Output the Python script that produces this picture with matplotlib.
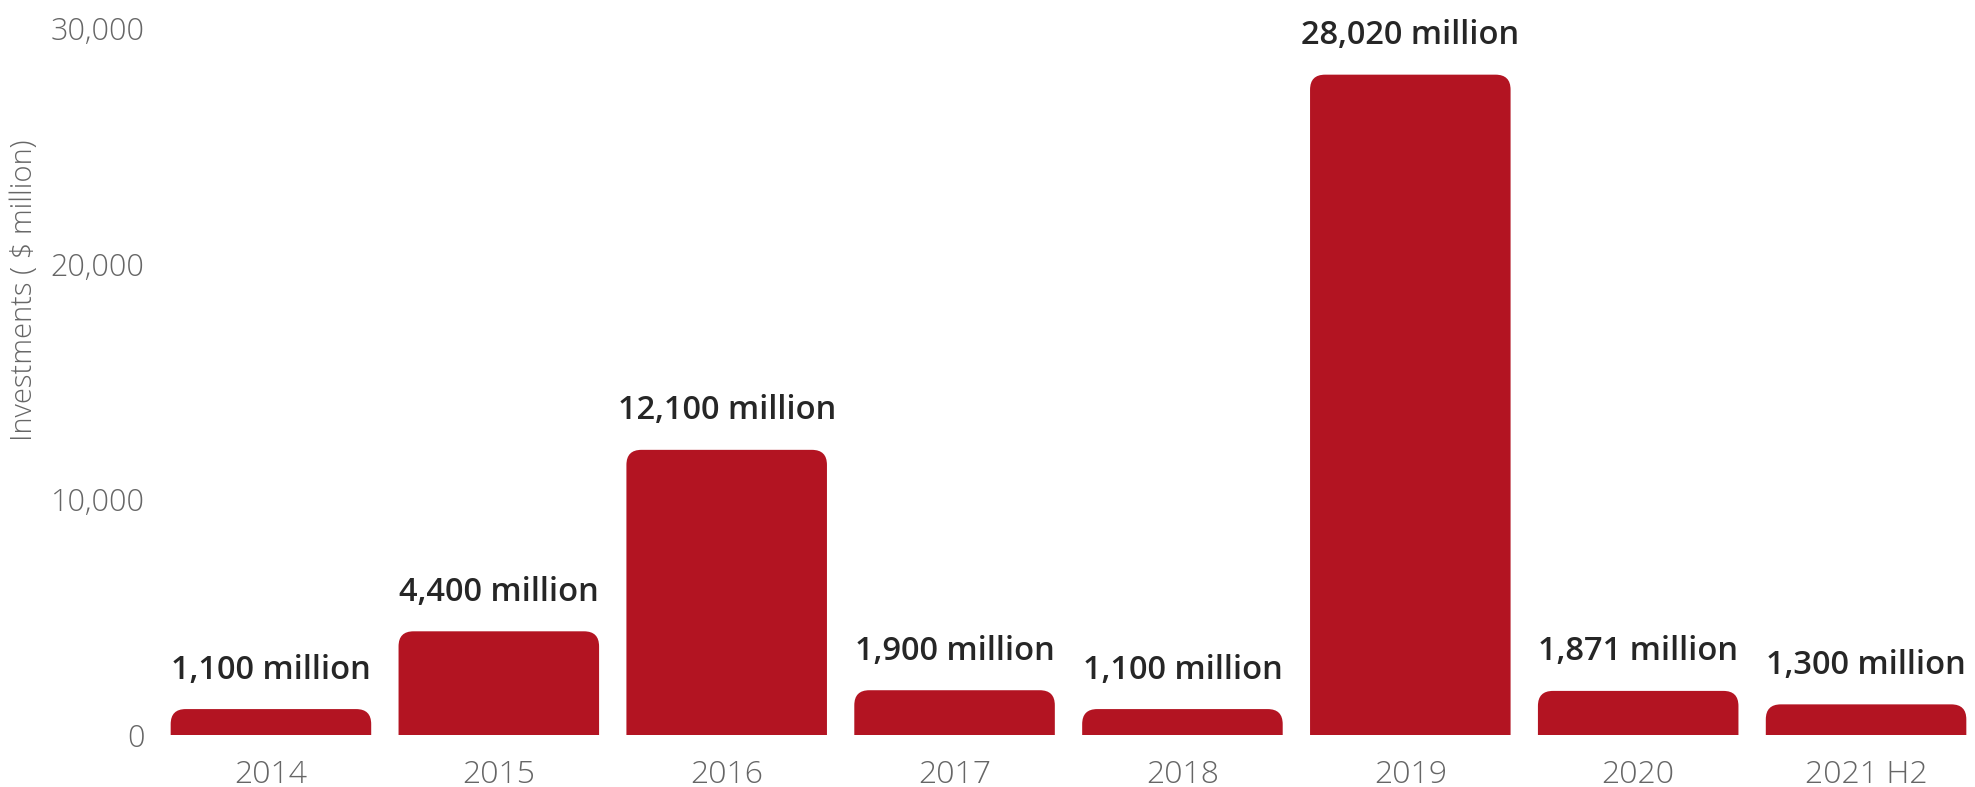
import matplotlib
matplotlib.use("Agg")
import matplotlib.pyplot as plt
from matplotlib.patches import FancyBboxPatch
from matplotlib.ticker import FuncFormatter

years = ["2014", "2015", "2016", "2017", "2018", "2019", "2020", "2021 H2"]
investments = [1100, 4400, 12100, 1900, 1100, 28020, 1871, 1300]
bar_labels = ["1,100 million", "4,400 million", "12,100 million", "1,900 million",
              "1,100 million", "28,020 million", "1,871 million", "1,300 million"]
y_ticks = [0, 10000, 20000, 30000]

BAR_RED = "#b31422"
TICK_GREY = "#666666"
LABEL_DARK = "#262626"

plt.rcParams["font.family"] = ["Open Sans", "DejaVu Sans"]

W, H, DPI = 1975, 787, 100
fig = plt.figure(figsize=(W / DPI, H / DPI), dpi=DPI)
fig.patch.set_facecolor("white")

# axes placed in pixel terms: zero line at y=735, 30,000 at y=28
left_px, right_px = 157, 1980
top_px, bottom_px = 28, 735
ax = fig.add_axes([left_px / W, 1 - bottom_px / H,
                   (right_px - left_px) / W, (bottom_px - top_px) / H])
ax.set_xlim(-0.5, len(years) - 0.5)
ax.set_ylim(0, 30000)

bar_w = 0.88
radius_px = 15
rx = radius_px / ((right_px - left_px) / len(years))
ry = radius_px * 30000 / (bottom_px - top_px)

for i, v in enumerate(investments):
    # extend below zero so the rounded bottom corners get clipped by the axes
    patch = FancyBboxPatch((i - bar_w / 2, -ry), bar_w, v + ry,
                           boxstyle=f"round,pad=0,rounding_size={rx}",
                           mutation_aspect=ry / rx,
                           facecolor=BAR_RED, edgecolor="none")
    ax.add_patch(patch)
    ax.annotate(bar_labels[i], (i, v), xytext=(0, 22), textcoords="offset points",
                ha="center", va="baseline", fontsize=23.5, fontweight="semibold",
                color=LABEL_DARK, annotation_clip=False)

ax.set_xticks(range(len(years)))
ax.set_xticklabels(years)
ax.set_yticks(y_ticks)
ax.yaxis.set_major_formatter(FuncFormatter(lambda v, p: f"{int(v):,}"))
ax.tick_params(axis="both", length=0, labelcolor=TICK_GREY)
ax.tick_params(axis="y", pad=9, labelsize=22)
ax.tick_params(axis="x", pad=17, labelsize=23)
for lab in ax.get_xticklabels() + ax.get_yticklabels():
    lab.set_fontweight("light")
for s in ax.spines.values():
    s.set_visible(False)

fig.text(24 / W, 1 - 290 / H, "Investments ( $ million)", rotation=90,
         ha="center", va="center", fontsize=21, fontweight="light", color=TICK_GREY)

fig.savefig("out.png", dpi=DPI, facecolor="white")
